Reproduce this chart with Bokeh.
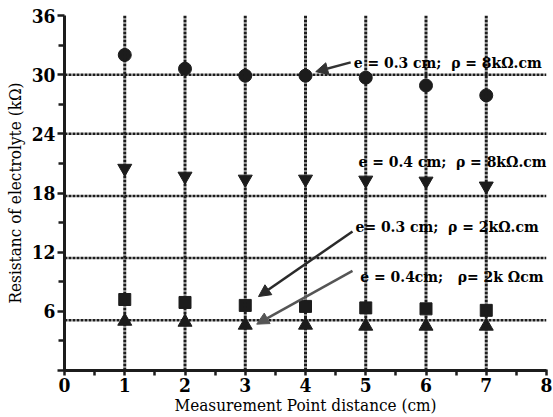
from bokeh.plotting import figure
from bokeh.models import (Range1d, FixedTicker, Span, Arrow, NormalHead, Label,
                          ColumnDataSource)
from bokeh.embed import file_html
from bokeh.resources import INLINE

# ---- data ----
distance = [1, 2, 3, 4, 5, 6, 7]
r_e03_rho8 = [32.0, 30.6, 29.9, 29.9, 29.7, 28.9, 27.9]
r_e04_rho8 = [20.5, 19.7, 19.4, 19.4, 19.3, 19.2, 18.7]
r_e03_rho2 = [7.2, 6.9, 6.6, 6.5, 6.35, 6.25, 6.1]
r_e04_rho2 = [5.0, 4.9, 4.6, 4.6, 4.5, 4.5, 4.5]

NB = "\u00a0"
labels = ["e = 0.3 cm;" + NB * 2 + "\u03c1 = 8k\u03a9.cm",
          "e = 0.4 cm;" + NB * 2 + "\u03c1 = 8k\u03a9.cm",
          "e= 0.3 cm;" + NB * 2 + "\u03c1 = 2k\u03a9.cm",
          "e = 0.4cm;" + NB * 3 + "\u03c1= 2k \u03a9cm"]

x_ticks = [0, 1, 2, 3, 4, 5, 6, 7, 8]
y_ticks = [0, 6, 12, 18, 24, 30, 36]
grid_x = [1, 2, 3, 4, 5, 6, 7]
grid_y = [30, 24, 17.7, 11.4, 5.1]

FONT = "'DejaVu Serif Condensed', 'DejaVu Serif'"
INK = "#1c1c1c"

p = figure(width=553, height=417, output_backend="svg", toolbar_location=None,
           x_range=Range1d(0, 8), y_range=Range1d(0, 36),
           min_border_left=64, min_border_right=7, min_border_top=15,
           min_border_bottom=45, background_fill_color="white",
           border_fill_color="white")
p.outline_line_color = None
p.xgrid.visible = False
p.ygrid.visible = False

# axes
p.xaxis.ticker = FixedTicker(ticks=x_ticks,
                             minor_ticks=[t + 0.5 for t in x_ticks[:-1]])
p.yaxis.ticker = FixedTicker(ticks=y_ticks,
                             minor_ticks=[t + 3 for t in y_ticks[:-1]])
p.yaxis.major_label_overrides = {0: ""}
for ax in (p.xaxis, p.yaxis):
    ax.axis_line_width = 3
    ax.axis_line_color = INK
    ax.major_tick_line_width = 2.5
    ax.minor_tick_line_width = 2.5
    ax.major_tick_line_color = INK
    ax.minor_tick_line_color = INK
    ax.major_label_text_font = FONT
    ax.major_label_text_font_style = "bold"
    ax.major_label_text_font_size = "19px"
    ax.major_label_text_color = "black"
    ax.axis_label_text_font = FONT
    ax.axis_label_text_font_style = "normal"
    ax.axis_label_text_font_size = "17px"
    ax.axis_label_text_color = "black"
p.xaxis.major_tick_out = 5
p.xaxis.major_tick_in = 1
p.xaxis.minor_tick_out = 5
p.xaxis.minor_tick_in = 0
p.yaxis.major_tick_out = 7
p.yaxis.major_tick_in = 0
p.yaxis.minor_tick_out = 6
p.yaxis.minor_tick_in = 0
p.xaxis.major_label_standoff = 2
p.yaxis.major_label_standoff = 2
p.xaxis.axis_label = "Measurement Point distance (cm)"
p.yaxis.axis_label = "Resistanc of electrolyte (k\u03a9)"
p.xaxis.axis_label_standoff = 0
p.yaxis.axis_label_standoff = 4

# dotted grid
for gx in grid_x:
    p.add_layout(Span(location=gx, dimension="height", line_color=INK,
                      line_width=3, line_dash="3 1"))
for gy in grid_y:
    p.add_layout(Span(location=gy, dimension="width", line_color=INK,
                      line_width=2.5, line_dash="3 1"))

# data markers
src = ColumnDataSource(dict(x=distance, a=r_e03_rho8, b=r_e04_rho8,
                            c=r_e03_rho2, d=r_e04_rho2))
p.scatter("x", "a", source=src, marker="circle", size=13, color=INK)
p.scatter("x", "b", source=src, marker="inverted_triangle", size=14, color=INK)
p.scatter("x", "c", source=src, marker="square", size=12, color=INK)
p.scatter("x", "d", source=src, marker="triangle", size=14, color=INK)

# annotations
label_pos = [(4.8, 31.25), (4.88, 21.2), (4.83, 14.6), (4.91, 9.5)]
for (lx, ly), txt in zip(label_pos, labels):
    p.add_layout(Label(x=lx, y=ly, text=txt, text_font=FONT,
                       text_font_style="bold", text_font_size="15.5px",
                       text_baseline="middle", text_color="black"))

arrows = [((4.75, 31.25), (4.17, 30.3), "#333333"),
          ((4.78, 14.1), (3.22, 7.5), "#2a2a2a"),
          ((4.78, 10.1), (3.19, 4.7), "#555555")]
for (x0, y0), (x1, y1), col in arrows:
    p.add_layout(Arrow(x_start=x0, y_start=y0, x_end=x1, y_end=y1,
                       line_color=col, line_width=2.5,
                       end=NormalHead(size=12, fill_color=col, line_color=col)))

open("out.html", "w").write(file_html(p, INLINE))
